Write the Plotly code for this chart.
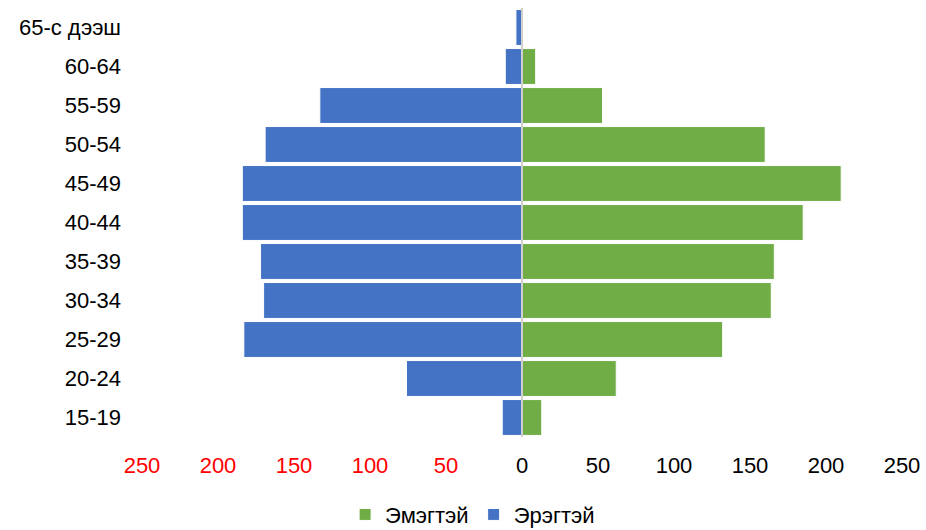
import plotly.graph_objects as go

# Age groups, bottom to top
age_groups = ["15-19", "20-24", "25-29", "30-34", "35-39", "40-44",
              "45-49", "50-54", "55-59", "60-64", "65-с дээш"]
female = [13, 62, 132, 164, 166, 185, 210, 160, 53, 9, 0]
male = [13, 76, 183, 170, 172, 184, 184, 169, 133, 11, 4]

tick_vals = [-250, -200, -150, -100, -50, 0, 50, 100, 150, 200, 250]
tick_text = [
    f"<span style='color:red'>{abs(v)}</span>" if v < 0 else str(v)
    for v in tick_vals
]

GREEN = "#70AD47"
BLUE = "#4472C4"
FONT = "Liberation Sans, Arial, sans-serif"

fig = go.Figure()
fig.add_trace(go.Bar(
    y=age_groups, x=female, orientation="h", name="Эмэгтэй",
    marker=dict(color=GREEN, line=dict(color="white", width=1)),
    customdata=female,
    hovertemplate="%{y}: %{customdata}<extra>Эмэгтэй</extra>",
))
fig.add_trace(go.Bar(
    y=age_groups, x=[-v for v in male], orientation="h", name="Эрэгтэй",
    marker=dict(color=BLUE, line=dict(color="white", width=1)),
    customdata=male,
    hovertemplate="%{y}: %{customdata}<extra>Эрэгтэй</extra>",
))

# Centre axis line
fig.add_shape(type="line", xref="x", yref="paper", x0=0, x1=0, y0=0, y1=1,
              line=dict(color="#cfcfcf", width=2), layer="above")

fig.update_layout(
    width=926, height=530,
    barmode="overlay", bargap=0.08,
    plot_bgcolor="white", paper_bgcolor="white",
    margin=dict(l=142, r=24, t=8, b=93, autoexpand=False),
    font=dict(family=FONT, size=22, color="black"),
    showlegend=True,
    legend=dict(orientation="h", x=0.435, xanchor="center", y=-0.132,
                yanchor="top", traceorder="normal", itemwidth=30,
                font=dict(size=22, family=FONT)),
    xaxis=dict(range=[-250, 250], tickvals=tick_vals, ticktext=tick_text,
               showgrid=False, zeroline=False, showline=False,
               ticks="", ticklabelstandoff=13, automargin=False),
    yaxis=dict(categoryorder="array", categoryarray=age_groups,
               showgrid=False, zeroline=False, showline=False,
               ticks="", ticklabelstandoff=20, automargin=False),
)

fig.write_html("out.html")
